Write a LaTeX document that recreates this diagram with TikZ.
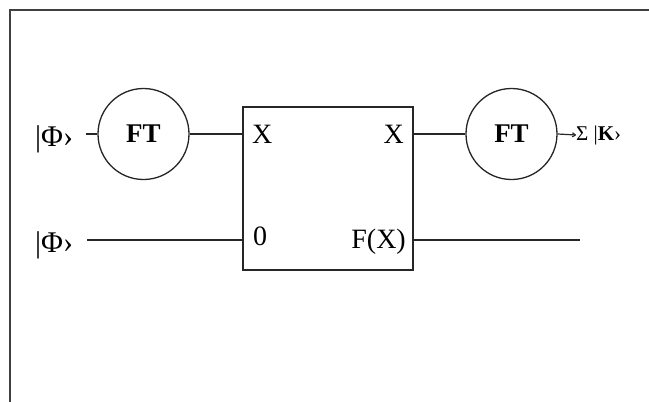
\documentclass[tikz,border=0pt]{standalone}
\usepackage{fontspec}
\setmainfont{Liberation Serif}
\usetikzlibrary{arrows.meta}
\begin{document}
\begin{tikzpicture}[x=1pt,y=-1pt,
  wire/.style={draw=black!85,line width=1.2pt},
  gate/.style={circle,draw=black!85,line width=1.3pt,minimum size=91pt,inner sep=0pt,
    font=\fontsize{27}{29}\bfseries\selectfont},
  lbl/.style={inner sep=0pt,font=\fontsize{28}{30}\selectfont},
  ket/.style={inner sep=0pt,anchor=base west,font=\fontsize{30}{32}\selectfont},
  small/.style={inner sep=0pt,anchor=west,font=\fontsize{21}{23}\selectfont}]
\useasboundingbox (0,0) rectangle (649,402);
\draw[line width=1.8pt,black!75] (10,402) -- (10,10) -- (649,10);
% gates
\node[gate] (ft1) at (143.5,134) {FT};
\node[gate] (ft2) at (511.5,134) {FT};
\node[draw=black!85,line width=1.6pt,minimum width=170pt,minimum height=163pt,inner sep=0pt] (box) at (328,188.5) {};
% kets
\node[ket] (k1) at (35,146) {|Φ›};
\node[ket] (k2) at (35,252) {|Φ›};
\coordinate (k1w) at (86,134);
\coordinate (k2w) at (87,240);
\coordinate (out2) at (580,240);
% box labels
\node[lbl,anchor=base west] (xin) at (252,143) {X};
\node[lbl,anchor=base east] (xout) at (404,143) {X};
\node[lbl,anchor=base west] (zero) at (253,245) {0};
\node[lbl,anchor=base east] (fx) at (406,248) {F(X)};
% output
\node[small] (sumk) at (576,135) {Σ |\textbf{K}›};
% wires
\draw[wire] (k1w) -- (ft1);
\draw[wire] (ft1) -- (box.west |- ft1);
\draw[wire] (box.east |- ft2) -- (ft2);
\draw[wire] (k2w) -- (box.west |- k2w);
\draw[wire] (box.east |- out2) -- (out2);
\draw[wire,-{To[length=4pt,width=5pt]}] (ft2.east) -- (sumk.west);
\end{tikzpicture}
\end{document}
